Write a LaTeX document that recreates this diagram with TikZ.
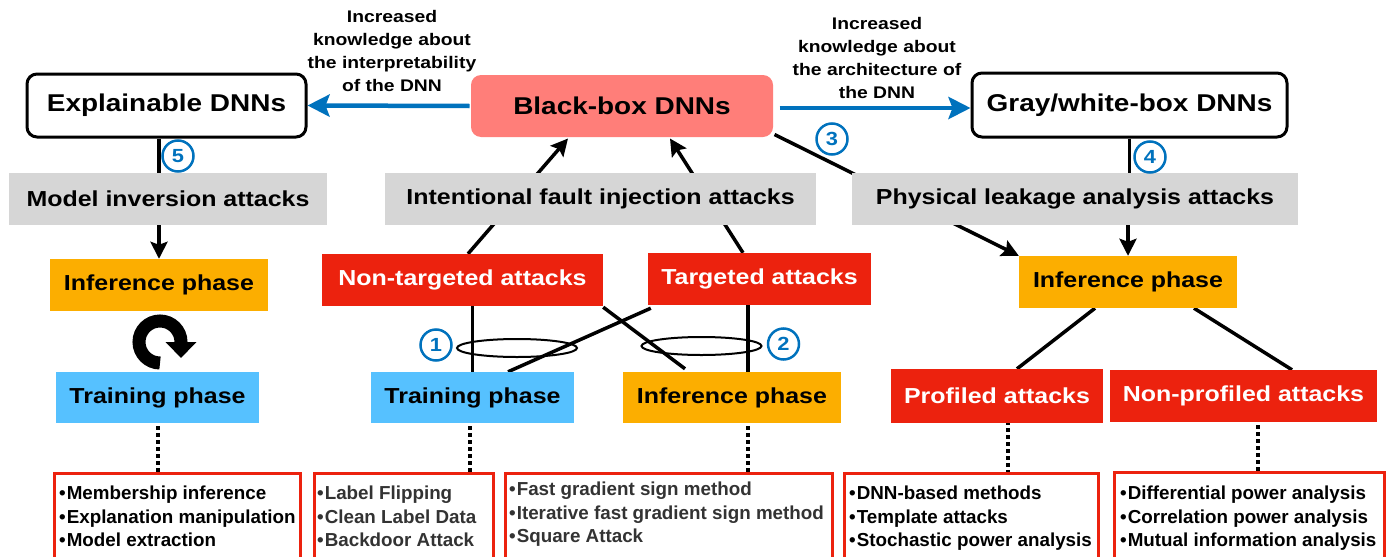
\documentclass[tikz,border=0pt]{standalone}
\usepackage{fontspec}
\setmainfont{Liberation Sans}[FakeStretch=1.15]
\newfontfamily\listfont{Liberation Sans}
\usetikzlibrary{arrows.meta,backgrounds}
\definecolor{knowblue}{RGB}{0,114,189}
\definecolor{tagGray}{RGB}{214,214,214}
\definecolor{attRed}{RGB}{236,34,14}
\definecolor{infOrange}{RGB}{252,174,0}
\definecolor{trainBlue}{RGB}{86,193,255}
\definecolor{bbSalmon}{RGB}{255,126,121}
\newcommand{\itm}{\textbullet\hspace{1pt}}
\tikzset{
  title/.style={draw, line width=3pt, rounded corners=10pt, inner sep=0pt,
    font=\bfseries\fontsize{24.3}{28}\selectfont},
  tag/.style={inner sep=0pt, minimum height=52pt,
    font=\bfseries\fontsize{21.7}{26}\selectfont},
  graytag/.style={tag, fill=tagGray},
  redtag/.style={tag, fill=attRed, text=white},
  inftag/.style={tag, fill=infOrange},
  traintag/.style={tag, fill=trainBlue},
  note/.style={align=center, inner sep=0pt, font=\bfseries\fontsize{16.8}{22.7}\selectfont},
  num/.style={circle, draw=knowblue, line width=2.5pt, minimum size=31pt, inner sep=0pt,
    text=knowblue, font=\bfseries\fontsize{19}{19}\selectfont},
  lstbox/.style={draw=attRed, line width=3pt, fill=white, minimum height=110pt, anchor=north west},
  lsttext/.style={anchor=north west, align=left, inner sep=0pt,
    font=\listfont\bfseries\fontsize{18.8}{23.3}\selectfont},
  link/.style={line width=3.5pt},
  linkarrow/.style={line width=3.5pt, -{Stealth[length=17pt,width=17pt,inset=3pt]}},
  knowarrow/.style={line width=4.5pt, knowblue, -{Stealth[length=22pt,width=22pt,inset=4pt]}},
  dots/.style={line width=4pt, dash pattern=on 4pt off 3pt}
}
\begin{document}
\begin{tikzpicture}[x=1pt,y=-1pt]
  \useasboundingbox (0,0) rectangle (1390,557);
  % top row
  \draw
    (166.5,105.5) node[title, minimum width=279pt, minimum height=63pt] (expl) {Explainable DNNs}
    (622,106) node[title, draw=none, fill=bbSalmon, minimum width=302pt, minimum height=62pt] (blackbox) {Black-box DNNs}
    (1129.5,105) node[title, minimum width=315pt, minimum height=64pt] (graybox) {Gray/white-box DNNs}
    (392,51) node[note] (annexpl) {Increased\\knowledge about\\the interpretability\\of the DNN}
    (877,58) node[note] (annarch) {Increased\\knowledge about\\the architecture of\\the DNN};
  % attack families
  \draw
    (168,199) node[graytag, minimum width=318pt] (modinv) {Model inversion attacks}
    (600.5,199) node[graytag, minimum width=431pt] (fault) {Intentional fault injection attacks}
    (1075,199) node[graytag, minimum width=446pt] (leak) {Physical leakage analysis attacks};
  % phases and attack kinds
  \draw
    (159,285) node[inftag, minimum width=218pt] (infL) {Inference phase}
    (157.5,397.5) node[traintag, minimum width=203pt, minimum height=51pt] (trainL) {Training phase}
    (462.5,280) node[redtag, minimum width=281pt] (nontarg) {Non-targeted attacks}
    (759.5,279) node[redtag, minimum width=223pt] (targ) {Targeted attacks}
    (472.5,397.5) node[traintag, minimum width=203pt, minimum height=51pt] (trainM) {Training phase}
    (732,397.5) node[inftag, minimum width=218pt, minimum height=51pt] (infM) {Inference phase}
    (1128,282) node[inftag, minimum width=218pt] (infR) {Inference phase}
    (997,396) node[redtag, minimum width=212pt, minimum height=54pt] (prof) {Profiled attacks}
    (1243.5,396) node[redtag, minimum width=267pt] (nonprof) {Non-profiled attacks};
  % numbered markers
  \draw
    (436,345) node[num] (num1) {1}
    (783.5,344) node[num] (num2) {2}
    (832,139) node[num] (num3) {3}
    (1150,157) node[num] (num4) {4}
    (178,156) node[num] (num5) {5};
  % method lists
  \node[lstbox, minimum width=246pt] (lstA) at (53,472) {};
  \node[lstbox, minimum width=179pt] (lstB) at (313,472) {};
  \node[lstbox, minimum width=327pt] (lstC) at (504,472) {};
  \node[lstbox, minimum width=254pt] (lstD) at (843,472) {};
  \node[lstbox, minimum width=270pt] (lstE) at (1113,471) {};
  \node[lsttext] (txtA) at (59,486) {\itm Membership inference\\\itm Explanation manipulation\\\itm Model extraction};
  \node[lsttext, text=black!80] (txtB) at (317,486) {\itm Label Flipping\\\itm Clean Label Data\\\itm Backdoor Attack};
  \node[lsttext, text=black!80] (txtC) at (509,482) {\itm Fast gradient sign method\\\itm Iterative fast gradient sign method\\\itm Square Attack};
  \node[lsttext] (txtD) at (849,486) {\itm DNN-based methods\\\itm Template attacks\\\itm Stochastic power analysis};
  \node[lsttext] (txtE) at (1120,486) {\itm Differential power analysis\\\itm Correlation power analysis\\\itm Mutual information analysis};
  \begin{scope}[on background layer]
    \draw[knowarrow] (blackbox.west) to (expl.east);
    \draw[knowarrow] ([xshift=5pt,yshift=-2pt]blackbox.east) to ([yshift=-3pt]graybox.west);
    % explainable branch
    \draw[link] (infL.north |- expl.south) to (infL.north |- modinv.north);
    \draw[linkarrow] (infL.north |- modinv.south) to (infL.north);
    \draw[line width=13pt, -{Triangle[length=16pt,width=30pt]}]
      (160,363) arc (90:360:21) -- (181,358);
    % fault injection branch
    \draw[line width=2pt] (517,348) ellipse [x radius=60pt, y radius=9pt];
    \draw[line width=2pt] (701.5,346) ellipse [x radius=60pt, y radius=9pt];
    \draw[linkarrow] ([xshift=5.5pt]nontarg.north) to ([xshift=-54pt]blackbox.south);
    \draw[linkarrow] ([xshift=-16.5pt]targ.north) to ([xshift=48pt]blackbox.south);
    \draw[link] (trainM.north |- nontarg.south) to (trainM.north);
    \draw[link] ([xshift=16pt]infM.north |- targ.south) to ([xshift=16pt]infM.north);
    \draw[link] ([xshift=3pt,yshift=-3pt]targ.south west) to ([xshift=35.5pt]trainM.north);
    \draw[link] ([yshift=-1pt]nontarg.south east) to ([xshift=-47pt,yshift=3pt]infM.north);
    % physical leakage branch
    \draw[linkarrow] ([yshift=4pt]blackbox.south east) to (infR.north west);
    \draw[link] (graybox.south) to (graybox.south |- leak.north);
    \draw[linkarrow] (infR.north |- leak.south) to (infR.north);
    \draw[link] ([xshift=-33pt]infR.south) to ([xshift=20pt]prof.north);
    \draw[link] ([xshift=66pt]infR.south) to ([xshift=48.5pt]nonprof.north);
    % dotted links to the lists
    \draw[dots] ([yshift=4pt]trainL.south) to (trainL.south |- lstA.north);
    \draw[dots] ([xshift=-3pt,yshift=4pt]trainM.south) to ([xshift=-3pt]trainM.south |- lstB.north);
    \draw[dots] ([xshift=16pt,yshift=4pt]infM.south) to ([xshift=16pt]infM.south |- lstC.north);
    \draw[dots] ([xshift=11pt,yshift=2pt]prof.south) to ([xshift=11pt]prof.south |- lstD.north);
    \draw[dots] ([xshift=14.5pt,yshift=4pt]nonprof.south) to ([xshift=14.5pt]nonprof.south |- lstE.north);
  \end{scope}
\end{tikzpicture}
\end{document}
